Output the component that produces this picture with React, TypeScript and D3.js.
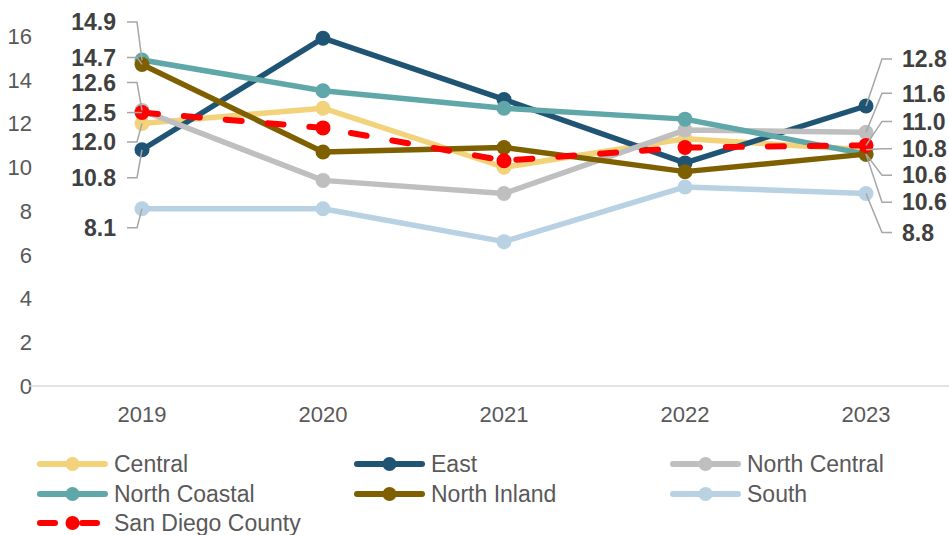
import React from "react";
import * as d3 from "d3";

const years = ["2019", "2020", "2021", "2022", "2023"];

const central = [12.0, 12.7, 10.0, 11.3, 10.8];
const east = [10.8, 15.9, 13.1, 10.2, 12.8];
const northCentral = [12.6, 9.4, 8.8, 11.7, 11.6];
const northCoastal = [14.9, 13.5, 12.7, 12.2, 10.6];
const northInland = [14.7, 10.7, 10.9, 9.8, 10.6];
const south = [8.1, 8.1, 6.6, 9.1, 8.8];
const sanDiego = [12.5, 11.8, 10.3, 10.9, 11.0];

const yTicks = [0, 2, 4, 6, 8, 10, 12, 14, 16];

type Series = { name: string; values: number[]; color: string; dashed?: boolean };

const series: Series[] = [
  { name: "Central", values: central, color: "#F2D37C" },
  { name: "East", values: east, color: "#1F5474" },
  { name: "North Central", values: northCentral, color: "#BFBFBF" },
  { name: "North Coastal", values: northCoastal, color: "#5FA7A8" },
  { name: "North Inland", values: northInland, color: "#7F6000" },
  { name: "South", values: south, color: "#B8D1E3" },
  { name: "San Diego County", values: sanDiego, color: "#FF0000", dashed: true },
];

// Vertical offsets (px) of each end label from its point, so crowded labels fan out
const firstLabelOffsets: Record<string, number> = {
  "North Coastal": -38,
  "North Inland": -7,
  "North Central": -28,
  "San Diego County": 0,
  Central: 18.5,
  East: 28,
  South: 19,
};
const lastLabelOffsets: Record<string, number> = {
  East: -47,
  "North Central": -39,
  "San Diego County": -24,
  Central: -1,
  "North Coastal": 21,
  "North Inland": 48,
  South: 39,
};

const W = 949;
const H = 535;
const FONT = "'Liberation Sans', Arial, sans-serif";

export default function App() {
  const x = d3.scalePoint<string>().domain(years).range([142, 866]);
  const y = d3.scaleLinear().domain([0, 16]).range([386, 36]);
  const line = d3
    .line<number>()
    .x((_, i) => x(years[i]) as number)
    .y((d) => y(d));

  const legendCols = [37, 354, 670];
  const legendRows = [464, 494, 523];

  const leaderColor = "#A6A6A6";
  const labelColor = "#404040";

  return (
    <svg
      width={W}
      height={H}
      style={{ position: "absolute", left: 0, top: 0, background: "#fff" }}
      fontFamily={FONT}
    >
      {/* y tick labels */}
      {yTicks.map((t) => (
        <text key={t} x={32} y={y(t)} dy="0.36em" textAnchor="end" fontSize={22} fill="#595959">
          {t}
        </text>
      ))}
      {/* baseline */}
      <line x1={29} x2={W} y1={y(0)} y2={y(0)} stroke="#D9D9D9" strokeWidth={1.5} />
      {/* x tick labels */}
      {years.map((yr) => (
        <text key={yr} x={x(yr)} y={414} dy="0.36em" textAnchor="middle" fontSize={22} fill="#595959">
          {yr}
        </text>
      ))}

      {/* series */}
      {series.map((s) => (
        <g key={s.name}>
          <path
            d={line(s.values) || ""}
            fill="none"
            stroke={s.color}
            strokeWidth={s.dashed ? 6 : 5.5}
            strokeLinejoin="round"
            strokeLinecap={s.dashed ? "round" : "butt"}
            strokeDasharray={s.dashed ? "16 26" : undefined}
          />
          {s.values.map((v, i) => (
            <circle key={i} cx={x(years[i])} cy={y(v)} r={7.5} fill={s.color} />
          ))}
        </g>
      ))}

      {/* end labels with leader lines */}
      {series.map((s) => {
        const px = x(years[0]) as number;
        const py = y(s.values[0]);
        const ly = py + firstLabelOffsets[s.name];
        return (
          <g key={"f" + s.name}>
            <polyline
              points={`127,${ly} 137,${ly} ${px},${py}`}
              fill="none"
              stroke={leaderColor}
              strokeWidth={1.5}
            />
            <text x={116} y={ly} dy="0.36em" textAnchor="end" fontSize={23} fontWeight="bold" fill={labelColor}>
              {s.values[0].toFixed(1)}
            </text>
          </g>
        );
      })}
      {series.map((s) => {
        const n = s.values.length - 1;
        const px = x(years[n]) as number;
        const py = y(s.values[n]);
        const ly = py + lastLabelOffsets[s.name];
        return (
          <g key={"l" + s.name}>
            <polyline
              points={`892,${ly} 882,${ly} ${px},${py}`}
              fill="none"
              stroke={leaderColor}
              strokeWidth={1.5}
            />
            <text x={902} y={ly} dy="0.36em" textAnchor="start" fontSize={23} fontWeight="bold" fill={labelColor}>
              {s.values[n].toFixed(1)}
            </text>
          </g>
        );
      })}

      {/* legend */}
      {series.map((s, i) => {
        const lx = legendCols[i % 3];
        const ly = legendRows[Math.floor(i / 3)];
        return (
          <g key={"lg" + s.name}>
            <line
              x1={lx + 3}
              x2={lx + 68}
              y1={ly}
              y2={ly}
              stroke={s.color}
              strokeWidth={6}
              strokeLinecap="round"
              strokeDasharray={s.dashed ? "15 27" : undefined}
            />
            <circle cx={lx + 35.5} cy={ly} r={7} fill={s.color} />
            <text x={lx + 77} y={ly} dy="0.36em" fontSize={23} fill="#595959">
              {s.name}
            </text>
          </g>
        );
      })}
    </svg>
  );
}
